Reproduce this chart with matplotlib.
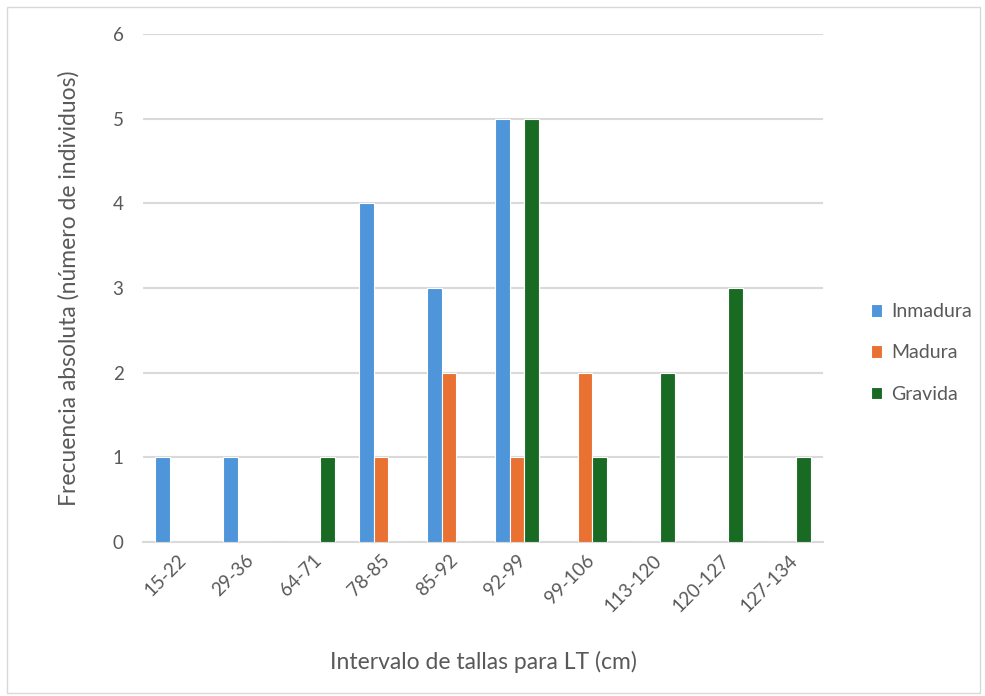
import matplotlib
matplotlib.use("Agg")
import matplotlib.pyplot as plt
from matplotlib.patches import Rectangle
import numpy as np

plt.rcParams['font.family'] = ['Lato', 'DejaVu Sans']

categories = ["15-22", "29-36", "64-71", "78-85", "85-92", "92-99",
              "99-106", "113-120", "120-127", "127-134"]
inmadura = [1, 1, 0, 4, 3, 5, 0, 0, 0, 0]
madura = [0, 0, 0, 1, 2, 1, 2, 0, 0, 0]
gravida = [0, 0, 1, 0, 0, 5, 1, 2, 3, 1]

series = [("Inmadura", inmadura, "#4E95D9"),
          ("Madura", madura, "#E97132"),
          ("Gravida", gravida, "#196B24")]

fig = plt.figure(figsize=(9.85, 6.96), dpi=100)
ax = fig.add_axes([143 / 985, 1 - 542 / 696, 680 / 985, 508 / 696])

x = np.arange(len(categories))
width = 0.215
offsets = [-width, 0, width]
for (name, vals, color), off in zip(series, offsets):
    ax.bar(x + off, vals, width, color=color, edgecolor="white",
           linewidth=0.8, label=name, zorder=3)

ax.set_xlim(-0.5, len(categories) - 0.5)
ax.set_ylim(0, 6)
ax.set_yticks(range(0, 7))
ax.yaxis.grid(True, color="#D9D9D9", linewidth=1.5, zorder=0)
ax.set_axisbelow(True)
for s in ["top", "right", "left"]:
    ax.spines[s].set_visible(False)
ax.spines["bottom"].set_color("#D9D9D9")
ax.spines["bottom"].set_linewidth(1.5)
ax.tick_params(axis="both", length=0, colors="#595959", labelsize=13.5)
ax.tick_params(axis="y", pad=14)
ax.tick_params(axis="x", pad=7)
ax.set_xticks(x)
ax.set_xticklabels(categories, rotation=45, ha="right", rotation_mode="anchor")

ax.set_xlabel("Intervalo de tallas para LT (cm)", fontsize=16.5, color="#595959", labelpad=26)
ax.set_ylabel("Frecuencia absoluta (número de individuos)", fontsize=16.5,
              color="#595959", labelpad=24)

leg = fig.legend(loc="center left", bbox_to_anchor=(853 / 985, 1 - 353 / 696),
                 frameon=False, fontsize=14, labelcolor="#595959",
                 handlelength=0.6, handleheight=0.6, handletextpad=0.45,
                 labelspacing=1.25)

fig.patches.append(Rectangle((7 / 985, 3 / 696), 973 / 985, 686 / 696,
                             transform=fig.transFigure, fill=False,
                             edgecolor="#D9D9D9", linewidth=1))

fig.savefig("out.png", dpi=100)
